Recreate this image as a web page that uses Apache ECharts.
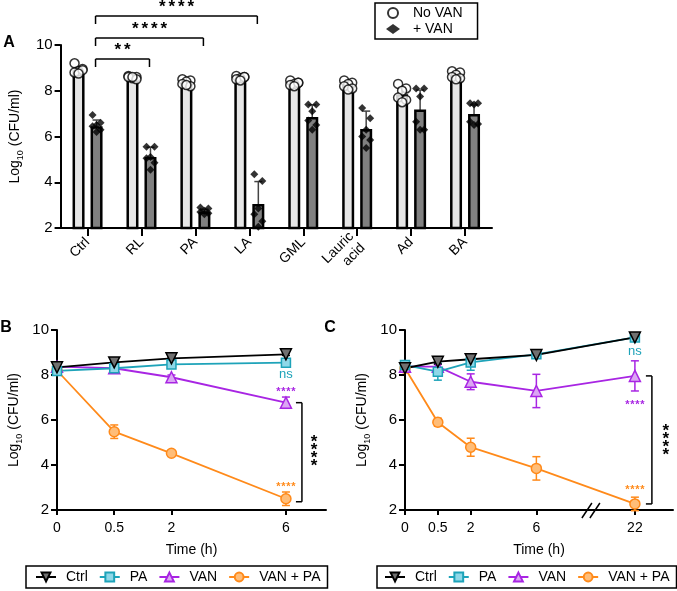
<!DOCTYPE html>
<html><head><meta charset="utf-8">
<script src="https://cdn.jsdelivr.net/npm/echarts@6/dist/echarts.min.js"></script>
<style>html,body{margin:0;padding:0;background:#fff}#c{width:677px;height:591px}</style>
</head><body><div id="c"></div><script>
// ================= DATA =================
// Panel A
const CATEGORIES = ['Ctrl', 'RL', 'PA', 'LA', 'GML', 'Lauric\nacid', 'Ad', 'BA'];
const NOVAN_MEAN = [8.9, 8.6, 8.35, 8.56, 8.3, 8.25, 7.85, 8.65];
const NOVAN_SD   = [0.15, 0.06, 0.12, 0.07, 0.09, 0.15, 0.3, 0.13];
const VAN_MEAN   = [6.45, 5.1, 2.72, 3.05, 6.85, 6.33, 7.18, 6.98];
const VAN_SD     = [0.27, 0.43, 0.1, 0.98, 0.53, 0.78, 0.85, 0.4];
const NOVAN_POINTS = [
  [9.2, 8.95, 8.85, 8.8, 8.9, 8.75],
  [8.65, 8.6, 8.55, 8.6, 8.5, 8.6],
  [8.5, 8.45, 8.4, 8.3, 8.2, 8.25],
  [8.65, 8.6, 8.55, 8.5, 8.6, 8.45],
  [8.45, 8.35, 8.3, 8.25, 8.35, 8.2],
  [8.45, 8.35, 8.3, 8.2, 8.1, 8.05],
  [8.3, 8.1, 8.0, 7.7, 7.6, 7.5],
  [8.85, 8.8, 8.7, 8.6, 8.55, 8.5]
];
const VAN_POINTS = [
  [6.94, 6.6, 6.5, 6.45, 6.3, 6.2],
  [5.55, 5.55, 5.1, 5.05, 4.85, 4.55],
  [2.9, 2.85, 2.75, 2.7, 2.65, 2.6],
  [4.35, 4.05, 2.85, 2.6, 2.3, 2.05],
  [7.4, 7.4, 7.1, 6.7, 6.5, 6.3],
  [7.25, 6.8, 6.3, 6.0, 5.85, 5.5],
  [8.1, 8.1, 7.75, 6.65, 6.3, 6.3],
  [7.45, 7.45, 7.4, 6.65, 6.55, 6.5]
];
const COMPARISONS_A = [['Ctrl', 'RL', '**'], ['Ctrl', 'PA', '****'], ['Ctrl', 'LA', '****']];
const Y_MIN = 2, Y_MAX = 10, Y_STEP = 2;

// Panel B
const TIMES_B = [0, 0.5, 2, 6];
const B_CTRL = [8.34, 8.56, 8.74, 8.92];   const B_CTRL_SD = [0.05, 0.05, 0.05, 0.05];
const B_PA = [8.18, 8.3, 8.47, 8.55];      const B_PA_SD = [0.05, 0.08, 0.05, 0.05];
const B_VAN = [8.37, 8.3, 7.9, 6.77];      const B_VAN_SD = [0.05, 0.05, 0.1, 0.25];
const B_VANPA = [8.2, 5.48, 4.52, 2.5];    const B_VANPA_SD = [0.05, 0.3, 0.1, 0.3];

// Panel C
const TIMES_C = [0, 0.5, 2, 6, 22];
const C_CTRL = [8.3, 8.59, 8.7, 8.89, 9.67];   const C_CTRL_SD = [0.05, 0.1, 0.2, 0.1, 0.05];
const C_PA = [8.44, 8.15, 8.56, 8.92, 9.67];   const C_PA_SD = [0.1, 0.38, 0.35, 0.1, 0.05];
const C_VAN = [8.37, 8.37, 7.7, 7.29, 7.96];   const C_VAN_SD = [0.05, 0.1, 0.35, 0.74, 0.67];
const C_VANPA = [8.3, 5.9, 4.79, 3.85, 2.27];  const C_VANPA_SD = [0.05, 0.18, 0.4, 0.52, 0.3];

const SIG_LABELS = {pa: 'ns', van: '****', vanpa: '****', bracket: '****'};
const SERIES_NAMES = ['Ctrl', 'PA', 'VAN', 'VAN + PA'];

// ================= SCALE / STYLE =================
// GraphPad-style segmented time axes (time -> axis slot)
function segmented(knots) {
  return t => {
    for (let i = 1; i < knots.length; i++) {
      const [t0, s0] = knots[i - 1], [t1, s1] = knots[i];
      if (t <= t1) return s0 + (t - t0) * (s1 - s0) / (t1 - t0);
    }
    return knots[knots.length - 1][1];
  };
}
const SCALE_B = segmented([[0, 0], [0.5, 1], [2, 2], [6, 4]]);
const SCALE_C = segmented([[0, 0], [0.5, 1], [2, 2], [6, 4], [22, 7]]);
const MAX_B = 4.7, MAX_C = 8.16, BREAK_SLOT_C = 5.66;

const FONT = '"Liberation Sans", Arial, Helvetica, sans-serif';
const STY = {
  'Ctrl':     {line: '#000000', fill: '#707070', symbol: 'triangle', rotate: 180, size: 11},
  'PA':       {line: '#1ea3b9', fill: '#8fd8e8', symbol: 'rect', rotate: 0, size: 9},
  'VAN':      {line: '#a825e3', fill: '#dba6f3', symbol: 'triangle', rotate: 0, size: 11},
  'VAN + PA': {line: '#ff8a1a', fill: '#ffbd78', symbol: 'circle', rotate: 0, size: 10}
};
const BAR_OFFSET = 9;
const JITTER = [-4, 4, 0, -4, 4, 0];

const chart = echarts.init(document.getElementById('c'));

const yName = '{a|Log}{s|10}{a| (CFU/ml)}';
const yNameStyle = {rich: {
  a: {fontSize: 14, fontFamily: FONT, color: '#000', lineHeight: 20, verticalAlign: 'middle'},
  s: {fontSize: 9, fontFamily: FONT, color: '#000', lineHeight: 9, verticalAlign: 'bottom'}
}};

function yAxis(gridIndex, nameGap) {
  return {
    type: 'value', gridIndex, min: Y_MIN, max: Y_MAX, interval: Y_STEP,
    axisLine: {show: true, onZero: false, lineStyle: {color: '#000', width: 2}},
    axisTick: {show: true, length: 6, lineStyle: {color: '#000', width: 2}},
    axisLabel: {color: '#000', fontSize: 15, fontFamily: FONT, margin: 8},
    splitLine: {show: false},
    name: yName, nameLocation: 'middle', nameGap, nameRotate: 90, nameTextStyle: yNameStyle
  };
}
function timeAxis(gridIndex, times, scale, max) {
  const slots = times.map(scale);
  return {
    type: 'value', gridIndex, min: 0, max,
    axisLine: {show: true, onZero: false, lineStyle: {color: '#000', width: 2}},
    axisTick: {show: true, length: 5, customValues: slots, lineStyle: {color: '#000', width: 2}},
    axisLabel: {color: '#000', fontSize: 14, fontFamily: FONT, margin: 11, customValues: slots,
      formatter: v => { const i = slots.findIndex(s => Math.abs(s - v) < 1e-6); return i >= 0 ? String(times[i]) : ''; }},
    splitLine: {show: false},
    name: 'Time (h)', nameLocation: 'middle', nameGap: 33,
    nameTextStyle: {fontSize: 14, fontFamily: FONT, color: '#000'}
  };
}

function errBars(xAxisIndex, yAxisIndex, data, color, offset, cap, lw) {
  return {
    type: 'custom', xAxisIndex, yAxisIndex, data, encode: {x: 0, y: 1}, silent: true,
    renderItem(params, api) {
      const x = api.value(0), m = api.value(1), s = api.value(2);
      const hi = api.coord([x, m + s]), lo = api.coord([x, m - s]);
      const cx = hi[0] + offset;
      const st = {stroke: color, lineWidth: lw};
      return {type: 'group', children: [
        {type: 'line', shape: {x1: cx, y1: hi[1], x2: cx, y2: lo[1]}, style: st},
        {type: 'line', shape: {x1: cx - cap, y1: hi[1], x2: cx + cap, y2: hi[1]}, style: st},
        {type: 'line', shape: {x1: cx - cap, y1: lo[1], x2: cx + cap, y2: lo[1]}, style: st}
      ]};
    }
  };
}

function timeSeries(name, axisIdx, times, scale, vals, sds) {
  const st = STY[name];
  return [
    errBars(axisIdx, axisIdx, times.map((t, i) => [scale(t), vals[i], sds[i]]), st.line, 0, 4, 1.5),
    {
      type: 'line', name, xAxisIndex: axisIdx, yAxisIndex: axisIdx,
      data: times.map((t, i) => [scale(t), vals[i]]),
      symbol: st.symbol, symbolRotate: st.rotate, symbolSize: st.size, showAllSymbol: true,
      lineStyle: {color: st.line, width: 1.8},
      itemStyle: {color: st.fill, borderColor: st.line, borderWidth: 1.5},
      emphasis: {disabled: true}, animation: false
    }
  ];
}

const scatterNo = [], scatterVan = [];
NOVAN_POINTS.forEach((pts, i) => pts.forEach((v, j) => scatterNo.push({value: [i, v], symbolOffset: [-BAR_OFFSET + JITTER[j], 0]})));
VAN_POINTS.forEach((pts, i) => pts.forEach((v, j) => scatterVan.push({value: [i, v], symbolOffset: [BAR_OFFSET + JITTER[j], 0]})));

const legendCommon = {
  selectedMode: false, borderColor: '#000', borderWidth: 1.5, borderRadius: 0,
  textStyle: {fontSize: 14, fontFamily: FONT, color: '#000', padding: [0, 0, 0, 5]}
};

const option = {
  animation: false,
  textStyle: {fontFamily: FONT},
  grid: [
    {left: 57, top: 45, width: 435, height: 183},
    {left: 57, top: 330, width: 269, height: 180},
    {left: 405, top: 330, width: 268, height: 180}
  ],
  xAxis: [
    {type: 'category', gridIndex: 0, data: CATEGORIES,
     axisLine: {show: true, onZero: false, lineStyle: {color: '#000', width: 2}},
     axisTick: {show: true, alignWithLabel: true, length: 8, lineStyle: {color: '#000', width: 2}},
     axisLabel: {color: '#000', fontSize: 14, fontFamily: FONT, rotate: 45, interval: 0, margin: 12, lineHeight: 16}},
    timeAxis(1, TIMES_B, SCALE_B, MAX_B),
    timeAxis(2, TIMES_C, SCALE_C, MAX_C)
  ],
  yAxis: [yAxis(0, 31), yAxis(1, 33), yAxis(2, 33)],
  legend: [
    Object.assign({}, legendCommon, {data: ['No VAN', '+ VAN'], orient: 'vertical', left: 375, top: 3,
      padding: [3, 15, 3, 11], itemGap: 2, itemWidth: 14, itemHeight: 10,
      textStyle: {fontSize: 14, fontFamily: FONT, color: '#000', padding: [0, 0, 0, 8]}}),
    Object.assign({}, legendCommon, {data: SERIES_NAMES, orient: 'horizontal', left: 26, top: 566,
      padding: [4, 7, 4, 9], itemGap: 11, itemWidth: 20, itemHeight: 11}),
    Object.assign({}, legendCommon, {data: SERIES_NAMES, orient: 'horizontal', left: 377, top: 566,
      padding: [4, 7, 4, 7], itemGap: 11, itemWidth: 20, itemHeight: 11})
  ],
  series: [
    {type: 'bar', name: 'barNo', xAxisIndex: 0, yAxisIndex: 0, data: NOVAN_MEAN, barWidth: 12, barGap: '50%',
     itemStyle: {color: '#e6e6e6', borderColor: '#000', borderWidth: 2.5}, emphasis: {disabled: true}},
    {type: 'bar', name: 'barVan', xAxisIndex: 0, yAxisIndex: 0, data: VAN_MEAN, barWidth: 12, barGap: '50%',
     itemStyle: {color: '#808080', borderColor: '#000', borderWidth: 2.5}, emphasis: {disabled: true}},
    errBars(0, 0, NOVAN_MEAN.map((m, i) => [i, m, NOVAN_SD[i]]), '#000', -BAR_OFFSET, 4, 1.5),
    errBars(0, 0, VAN_MEAN.map((m, i) => [i, m, VAN_SD[i]]), '#444', BAR_OFFSET, 4, 1.5),
    {type: 'scatter', name: 'No VAN', xAxisIndex: 0, yAxisIndex: 0, data: scatterNo, symbol: 'circle', symbolSize: 9,
     itemStyle: {color: '#fff', borderColor: '#000', borderWidth: 1.5}, emphasis: {disabled: true}},
    {type: 'scatter', name: '+ VAN', xAxisIndex: 0, yAxisIndex: 0, data: scatterVan, symbol: 'diamond', symbolSize: 8,
     itemStyle: {color: '#000'}, emphasis: {disabled: true}},
    ...timeSeries('VAN + PA', 1, TIMES_B, SCALE_B, B_VANPA, B_VANPA_SD),
    ...timeSeries('VAN', 1, TIMES_B, SCALE_B, B_VAN, B_VAN_SD),
    ...timeSeries('PA', 1, TIMES_B, SCALE_B, B_PA, B_PA_SD),
    ...timeSeries('Ctrl', 1, TIMES_B, SCALE_B, B_CTRL, B_CTRL_SD),
    ...timeSeries('VAN + PA', 2, TIMES_C, SCALE_C, C_VANPA, C_VANPA_SD),
    ...timeSeries('VAN', 2, TIMES_C, SCALE_C, C_VAN, C_VAN_SD),
    ...timeSeries('PA', 2, TIMES_C, SCALE_C, C_PA, C_PA_SD),
    ...timeSeries('Ctrl', 2, TIMES_C, SCALE_C, C_CTRL, C_CTRL_SD)
  ]
};
chart.setOption(option);

// ================= ANNOTATIONS =================
function stars(text, cx, cy, spacing, size, color, vertical) {
  const n = text.length, els = [];
  for (let k = 0; k < n; k++) {
    const d = (k - (n - 1) / 2) * spacing;
    els.push({type: 'text', x: vertical ? cx : cx + d, y: (vertical ? cy + d : cy) + size * 0.22, silent: true,
      style: {text: text[k], fill: color, fontSize: size, fontWeight: 'bold', fontFamily: FONT,
              align: 'center', verticalAlign: 'middle', textAlign: 'center', textVerticalAlign: 'middle'}});
  }
  return els;
}
function txt(text, x, y, size, color, weight, align) {
  return {type: 'text', x, y, silent: true, style: {text, fill: color, fontSize: size, fontWeight: weight || 'normal',
    fontFamily: FONT, align: align || 'center', verticalAlign: 'middle', textAlign: align || 'center', textVerticalAlign: 'middle'}};
}
function line(x1, y1, x2, y2, color, w) {
  return {type: 'line', silent: true, shape: {x1, y1, x2, y2}, style: {stroke: color || '#000', lineWidth: w || 1.5}};
}

const G = [];
// panel letters
G.push(txt('A', 9, 43, 16, '#000', 'bold'));
G.push(txt('B', 6, 328, 16, '#000', 'bold'));
G.push(txt('C', 330, 328, 16, '#000', 'bold'));

// panel A brackets
const topA = chart.convertToPixel({gridIndex: 0}, [0, Y_MAX])[1];
const LEVELS = [14, -7, -29];
COMPARISONS_A.forEach((c, k) => {
  const i0 = CATEGORIES.indexOf(c[0]), i1 = CATEGORIES.indexOf(c[1]);
  const x0 = chart.convertToPixel({gridIndex: 0}, [i0, Y_MIN])[0] + 8;
  const x1 = chart.convertToPixel({gridIndex: 0}, [i1, Y_MIN])[0] + 8;
  const y = topA + LEVELS[k];
  G.push(line(x0, y, x1, y), line(x0, y, x0, y + 8), line(x1, y, x1, y + 8));
  G.push(...stars(c[2], (x0 + x1) / 2, y - 12, 9.5, 17, '#000', false));
});

function panelAnnot(gi, times, scale, pa, van, vanpa, o) {
  const last = times.length - 1, xs = scale(times[last]);
  const pPA = chart.convertToPixel({gridIndex: gi}, [xs, pa[last]]);
  const pV = chart.convertToPixel({gridIndex: gi}, [xs, van[last]]);
  const pVP = chart.convertToPixel({gridIndex: gi}, [xs, vanpa[last]]);
  G.push(txt(SIG_LABELS.pa, pPA[0], pPA[1] + o.ns, 13, STY['PA'].line));
  G.push(...stars(SIG_LABELS.van, pV[0], pV[1] + o.v, 5, 11, STY['VAN'].line, false));
  G.push(...stars(SIG_LABELS.vanpa, pVP[0], pVP[1] + o.vp, 5, 11, STY['VAN + PA'].line, false));
  const bx = pV[0] + o.bx;
  G.push(line(bx, pV[1], bx, pVP[1] + o.bb), line(bx - 6, pV[1], bx, pV[1]), line(bx - 6, pVP[1] + o.bb, bx, pVP[1] + o.bb));
  G.push(...stars(SIG_LABELS.bracket, bx + o.sx, (pV[1] + pVP[1]) / 2, 8, 17, '#000', true));
}
panelAnnot(1, TIMES_B, SCALE_B, B_PA, B_VAN, B_VANPA, {ns: 12, v: -13, vp: -14, bx: 16, bb: 3, sx: 12});
panelAnnot(2, TIMES_C, SCALE_C, C_PA, C_VAN, C_VANPA, {ns: 14, v: 27, vp: -16, bx: 17, bb: 0, sx: 14});

// axis break on panel C
const bp = chart.convertToPixel({gridIndex: 2}, [BREAK_SLOT_C, Y_MIN]);
const bxc = bp[0], byc = bp[1];
G.push({type: 'polygon', silent: true, shape: {points: [[bxc - 9, byc + 8], [bxc + 1, byc - 7], [bxc + 9, byc - 7], [bxc - 1, byc + 8]]},
  style: {fill: '#fff'}});
G.push(line(bxc - 9, byc + 8, bxc + 1, byc - 7, '#000', 1.5), line(bxc - 1, byc + 8, bxc + 9, byc - 7, '#000', 1.5));

chart.setOption({graphic: G});
</script></body></html>
